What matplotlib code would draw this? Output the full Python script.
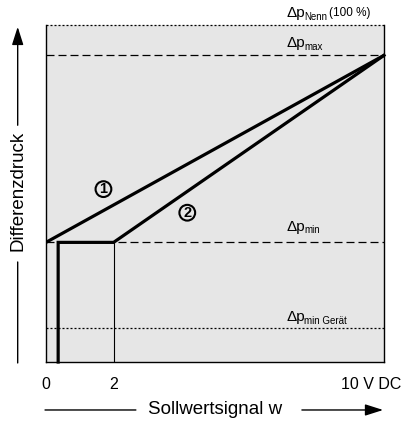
import matplotlib
matplotlib.use("Agg")
import matplotlib.pyplot as plt
from matplotlib.transforms import ScaledTranslation

plt.rcParams["font.family"] = ["Liberation Sans", "DejaVu Sans"]

# signal axis (V) and differential pressure levels (% of nominal)
x_ticks = [0, 2, 10]
x_tick_labels = ["0", "2", "10 V DC"]
dp_nenn = 100
dp_max = 91
dp_min = 35.5
dp_min_geraet = 10

# characteristic curves
curve1_x = [0, 10]
curve1_y = [dp_min, dp_max]
curve2_x = [0.36, 0.36, 2, 10]
curve2_y = [0, dp_min, dp_min, dp_max]

# circled curve labels
marker_labels = ["1", "2"]
marker_x = [1.70, 4.18]
marker_y = [51.3, 44.3]

fig = plt.figure(figsize=(4.02, 4.26), dpi=100)
ax = fig.add_axes([0.1144, 0.1502, 0.8408, 0.7911])
ax.set_facecolor("#e6e6e6")
ax.set_xlim(0, 10)
ax.set_ylim(0, 100)

for side in ("left", "right", "bottom"):
    ax.spines[side].set_linewidth(1.0)
ax.spines["top"].set_visible(False)

dashed = (0, (6.4, 3.2))
dotted = (0, (1.6, 1.6))
ax.axhline(dp_nenn, color="black", lw=0.9, ls=dotted, clip_on=False)
ax.axhline(dp_max, color="black", lw=0.9, ls=dashed)
ax.axhline(dp_min, color="black", lw=0.9, ls=dashed)
ax.axhline(dp_min_geraet, color="black", lw=0.9, ls=dotted)

ax.plot([2, 2], [0, dp_min], color="black", lw=0.8)
ax.plot(curve1_x, curve1_y, color="black", lw=2.3, solid_joinstyle="miter")
ax.plot(curve2_x, curve2_y, color="black", lw=2.3, solid_joinstyle="miter",
        clip_on=False)

for lab, mx, my in zip(marker_labels, marker_x, marker_y):
    ax.text(mx, my, lab, ha="center", va="center", fontsize=10.5,
            fontweight="bold",
            bbox=dict(boxstyle="circle,pad=0.06", fc="none", ec="black", lw=1.5))


def dp_label(y, sub, extra=None):
    t = ax.text(7.12, y, "Δp", fontsize=11, va="baseline")
    s = ax.annotate(sub, xy=(1, 0), xycoords=t, xytext=(-0.6, -1.2),
                    textcoords="offset points", fontsize=7, va="bottom")
    if extra:
        ax.annotate(extra, xy=(1, 0), xycoords=s, xytext=(1.2, 1.6),
                    textcoords="offset points", fontsize=8.5, va="bottom")


dp_label(102.4, "Nenn", "(100 %)")
dp_label(93.5, "max")
dp_label(39.0, "min")
dp_label(12.2, "min Gerät")

ax.set_yticks([])
ax.set_xticks(x_ticks, x_tick_labels, fontsize=11.5)
ax.tick_params(axis="x", length=0, pad=10.5)
last = ax.get_xticklabels()[-1]
last.set_transform(last.get_transform()
                   + ScaledTranslation(-0.126, 0, fig.dpi_scale_trans))

# axis titles with arrows
arrow = dict(arrowstyle="-|>,head_length=1.1,head_width=0.35", lw=1.0,
             color="black", shrinkA=0, shrinkB=0, mutation_scale=10)
line = dict(arrowstyle="-", lw=1.0, color="black", shrinkA=0, shrinkB=0)

ax.annotate("", xy=(0.044, 0.385), xytext=(0.044, 0.148),
            xycoords="figure fraction", arrowprops=line)
ax.annotate("", xy=(0.044, 0.937), xytext=(0.044, 0.706),
            xycoords="figure fraction", arrowprops=arrow)
fig.text(0.044, 0.553, "Differenzdruck", rotation=90, ha="center",
         va="center", fontsize=13.5)

ax.annotate("", xy=(0.338, 0.0376), xytext=(0.112, 0.0376),
            xycoords="figure fraction", arrowprops=line)
ax.annotate("", xy=(0.953, 0.0376), xytext=(0.751, 0.0376),
            xycoords="figure fraction", arrowprops=arrow)
fig.text(0.535, 0.0376, "Sollwertsignal w", ha="center", va="center",
         fontsize=13.5)

fig.savefig("out.png", dpi=100, facecolor="white")
